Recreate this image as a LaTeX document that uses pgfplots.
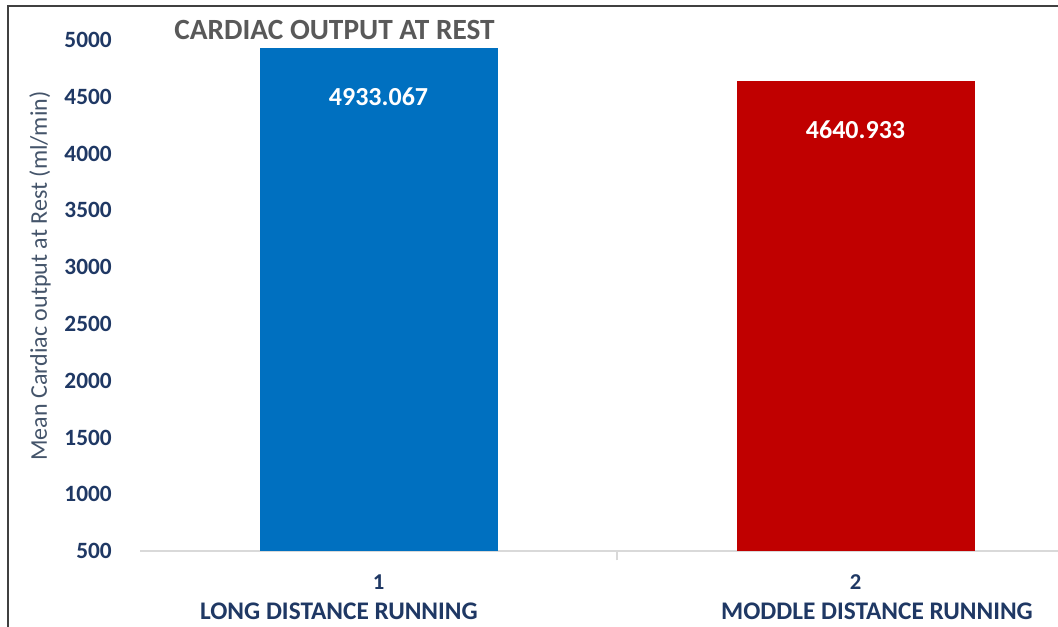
\documentclass[border=0pt]{standalone}
\usepackage{pgfplots}
\pgfplotsset{compat=1.18}
\usepackage{fontspec}
\setmainfont{Carlito}
\definecolor{barblue}{HTML}{0070C0}
\definecolor{barred}{HTML}{C00000}
\definecolor{ticknavy}{HTML}{1F3864}
\definecolor{titlegray}{HTML}{595959}
\definecolor{labgray}{HTML}{44546A}
\definecolor{axgray}{HTML}{D9D9D9}
\begin{document}
\begin{tikzpicture}
\useasboundingbox (0,0) rectangle (793.5pt,470.25pt);
\draw[line width=1.5pt, black!75] (6pt,0pt) -- (6pt,465.75pt) -- (793.5pt,465.75pt);
\begin{axis}[
  at={(105pt,57pt)}, anchor=south west,
  scale only axis, width=688.5pt, height=383.25pt,
  xmin=0.5, xmax=2.4245, ymin=500, ymax=5000,
  ybar, bar width=178.5pt, bar shift=0pt,
  axis y line*=left,
  y axis line style={draw=none},
  axis x line*=bottom,
  x axis line style={draw=axgray, line width=1pt, -},
  xtick={1,2},
  xticklabels={1,2},
  xticklabel style={anchor=center, font=\fontsize{17}{19}\selectfont\bfseries, text=ticknavy, inner sep=0pt, yshift=-23.5pt},
  major tick length=0pt,
  minor xtick={1.5},
  minor tick length=7pt,
  minor x tick style={draw=axgray, line width=1pt},
  tick align=outside,
  ytick={500,1000,...,5000},
  yticklabel style={anchor=east, inner sep=0pt, xshift=-21pt, font=\fontsize{17.5}{20}\selectfont\bfseries, text=ticknavy},
  /pgf/number format/assume math mode=true,
  /pgf/number format/set thousands separator={},
  ytick style={draw=none},
  point meta=explicit symbolic,
  nodes near coords,
  every node near coord/.append style={anchor=center, yshift=-37pt, text=white, font=\fontsize{19.5}{22}\selectfont\bfseries},
  clip=true,
]
\addplot[fill=barblue, draw=none] coordinates {(1,4933.067) [4933.067]};
\addplot[fill=barred, draw=none] coordinates {(2,4640.933) [4640.933]};
\coordinate (c1) at (axis cs:0.917,500);
\coordinate (c2) at (axis cs:2.045,500);
\end{axis}
\node[font=\fontsize{19}{22}\selectfont\bfseries, text=ticknavy, inner sep=0pt] at ([yshift=-45pt]c1) {LONG DISTANCE RUNNING};
\node[font=\fontsize{19}{22}\selectfont\bfseries, text=ticknavy, inner sep=0pt] at ([yshift=-45pt]c2) {MODDLE DISTANCE RUNNING};
\node[font=\fontsize{22}{24}\selectfont\bfseries, text=titlegray] at (250.9pt,447.75pt) {CARDIAC OUTPUT AT REST};
\node[font=\fontsize{18}{20}\selectfont, text=labgray, rotate=90] at (30pt,263.25pt) {Mean Cardiac output at Rest (ml/min)};
\end{tikzpicture}
\end{document}
